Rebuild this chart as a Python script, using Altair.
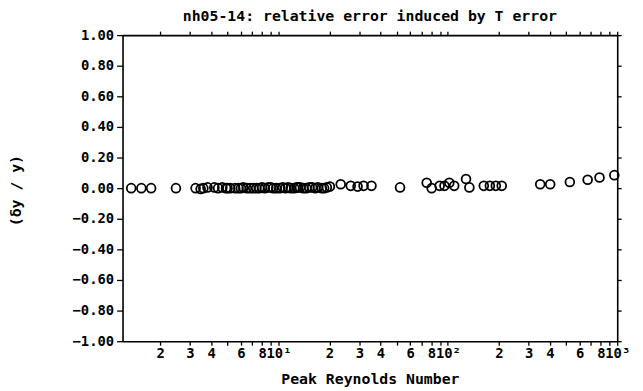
import altair as alt
import pandas as pd

# Peak Reynolds number of each test point
reynolds = [1.35, 1.55, 1.77, 2.48, 3.24, 3.47, 3.6, 3.81, 4.18, 4.4, 4.66, 4.9, 5.0, 5.19,
            5.55, 5.8, 6.0, 6.2, 6.5, 6.8, 7.1, 7.4, 7.7, 8.0, 8.3, 8.7, 9.0, 9.3, 9.7,
            10.2, 10.6, 11.0, 11.4, 11.8, 12.4, 12.8, 13.0, 13.4, 14.0, 14.6, 15.2, 15.8,
            16.5, 17.1, 18.0, 18.6, 19.3, 20.1, 23.3, 26.7, 29.3, 31.8, 35.4,
            52.2, 75.0, 80.2, 89.4, 95.5, 102, 109, 128, 134, 163, 177, 192, 208,
            351, 402, 525, 669, 786, 961]
# relative error induced by T error
rel_err = [0.0, 0.0, 0.0, 0.0, 0.0, -0.005, 0.0, 0.005, 0.005, 0.0, 0.005, 0.0, 0.0, 0.0,
           0.0, 0.0, 0.0, 0.005, 0.0, 0.0, 0.0, 0.0, 0.0, 0.005, 0.0, 0.005, 0.005, 0.0, 0.0,
           0.0, 0.005, 0.0, 0.005, 0.0, 0.0, 0.005, 0.005, 0.005, 0.0, 0.0, 0.005, 0.005,
           0.0, 0.005, 0.0, 0.0, 0.005, 0.01, 0.025, 0.015, 0.01, 0.015, 0.015,
           0.005, 0.035, 0.0, 0.015, 0.015, 0.035, 0.015, 0.06, 0.005, 0.015, 0.015, 0.015, 0.015,
           0.025, 0.025, 0.04, 0.055, 0.07, 0.085]

x_ticks = [2, 3, 4, 5, 6, 7, 8, 9, 10, 20, 30, 40, 50, 60, 70, 80, 90, 100,
           200, 300, 400, 500, 600, 700, 800, 900, 1000]
x_labeled = [2, 3, 4, 6, 8, 20, 30, 40, 60, 80, 200, 300, 400, 600, 800]
y_ticks = [-1.0, -0.8, -0.6, -0.4, -0.2, 0.0, 0.2, 0.4, 0.6, 0.8, 1.0]

df = pd.DataFrame({"re": reynolds, "err": rel_err})

FONT = "DejaVu Sans Mono"

label_expr = (
    "datum.value==10?'10\u00b9':datum.value==100?'10\u00b2':datum.value==1000?'10\u00b3':"
    "(indexof(" + str(x_labeled) + ",datum.value)>=0?substring(toString(datum.value),0,1):'')"
)

xscale = alt.Scale(type="log", domain=[1.2, 1000], nice=False)
yscale = alt.Scale(domain=[-1, 1], nice=False, zero=False)

points = alt.Chart(df).mark_point(
    shape="circle", filled=False, size=80, strokeWidth=1.8, color="black", opacity=1
).encode(
    x=alt.X("re:Q", scale=xscale, axis=alt.Axis(
        orient="bottom", values=x_ticks, labelExpr=label_expr, labelFlush=False,
        labelOverlap=False, labelBound=False, tickSize=4, tickWidth=1.3, domainWidth=1.6,
        domainColor="black", tickColor="black", labelColor="black", grid=False,
        labelFont=FONT, labelFontSize=14, labelFontWeight="bold", labelPadding=2,
        title="Peak Reynolds Number", titleFont=FONT, titleFontSize=15,
        titleFontWeight="bold", titleColor="black", titleY=38, titleBaseline="middle")),
    y=alt.Y("err:Q", scale=yscale, axis=alt.Axis(
        orient="left", values=y_ticks, format=".2f", tickSize=6, tickWidth=1.3,
        domainWidth=1.6, domainColor="black", tickColor="black", labelColor="black",
        grid=False, labelFont=FONT, labelFontSize=14, labelFontWeight="bold",
        labelPadding=3, labelFlush=False, labelOverlap=False,
        title="(\u03b4y / y)", titleFont=FONT, titleFontSize=15, titleFontWeight="bold",
        titleColor="black", titleAngle=270, titleX=-108, titleY=157,
        titleAlign="center", titleBaseline="middle")),
)

frame = alt.Chart(df).mark_point(opacity=0).encode(
    x=alt.X("re:Q", scale=xscale, axis=alt.Axis(
        orient="top", values=x_ticks, labels=False, tickSize=4, tickWidth=1.3,
        domainWidth=1.6, domainColor="black", tickColor="black", grid=False, title=None)),
    y=alt.Y("err:Q", scale=yscale, axis=alt.Axis(
        orient="right", values=y_ticks, labels=False, tickSize=4, tickWidth=1.3,
        domainWidth=1.6, domainColor="black", tickColor="black", grid=False, title=None)),
)

chart = alt.layer(points, frame).resolve_axis(x="independent", y="independent").properties(
    width=501, height=310,
    autosize=alt.AutoSizeParams(type="none"),
    padding={"left": 116, "top": 25, "right": 18, "bottom": 48},
    title=alt.TitleParams("nh05-14: relative error induced by T error", font=FONT,
                          fontSize=15, fontWeight="bold", color="black", offset=4,
                          anchor="middle"),
).configure_view(stroke=None).configure(background="white")

chart.save("out.html", embed_options={"renderer": "svg", "actions": False})
